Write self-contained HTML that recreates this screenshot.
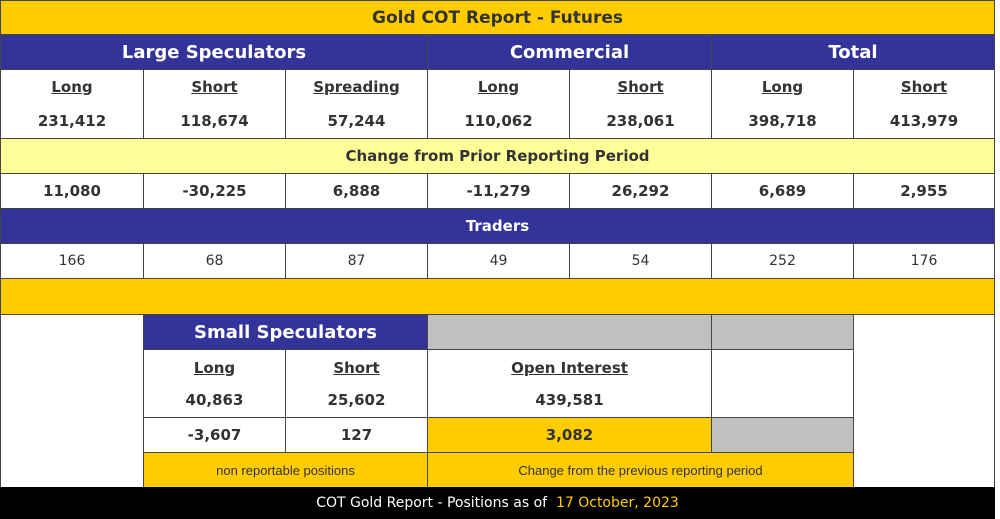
<!DOCTYPE html>
<html><head><meta charset="utf-8"><style>
body{margin:0;width:1000px;height:519px;background:#fff;position:relative;overflow:hidden;font-family:"DejaVu Sans",Verdana,sans-serif;}
.c{position:absolute;box-sizing:border-box;border:1px solid #444;display:flex;align-items:center;justify-content:center;color:#333;font-weight:bold;font-size:15px;margin:0 0 0 0;}
.y{background:#ffcc00}.b{background:#333399;color:#fff;font-size:18px}.w{background:#fff}.g{background:#c0c0c0}.ly{background:#ffff99}
.u{text-decoration:underline}
.n{font-weight:normal;font-size:14px}
.s{font-family:"Liberation Sans",Arial,sans-serif;font-weight:normal;font-size:13px}
.nb{border:none}
</style></head><body>
<div class="c y" style="left:0;top:0;width:995px;height:35px;font-size:17px">Gold COT Report - Futures</div>
<div class="c b" style="left:0;top:34px;width:428px;height:36px">Large Speculators</div>
<div class="c b" style="left:427px;top:34px;width:285px;height:36px">Commercial</div>
<div class="c b" style="left:711px;top:34px;width:284px;height:36px">Total</div>

<div class="c w" style="left:0;top:69px;width:144px;height:70px;flex-direction:column;gap:16px"><span class="u">Long</span><span>231,412</span></div>
<div class="c w" style="left:143px;top:69px;width:143px;height:70px;flex-direction:column;gap:16px"><span class="u">Short</span><span>118,674</span></div>
<div class="c w" style="left:285px;top:69px;width:143px;height:70px;flex-direction:column;gap:16px"><span class="u">Spreading</span><span>57,244</span></div>
<div class="c w" style="left:427px;top:69px;width:143px;height:70px;flex-direction:column;gap:16px"><span class="u">Long</span><span>110,062</span></div>
<div class="c w" style="left:569px;top:69px;width:143px;height:70px;flex-direction:column;gap:16px"><span class="u">Short</span><span>238,061</span></div>
<div class="c w" style="left:711px;top:69px;width:143px;height:70px;flex-direction:column;gap:16px"><span class="u">Long</span><span>398,718</span></div>
<div class="c w" style="left:853px;top:69px;width:142px;height:70px;flex-direction:column;gap:16px"><span class="u">Short</span><span>413,979</span></div>

<div class="c ly" style="left:0;top:138px;width:995px;height:36px">Change from Prior Reporting Period</div>
<div class="c w" style="left:0;top:173px;width:144px;height:36px">11,080</div>
<div class="c w" style="left:143px;top:173px;width:143px;height:36px">-30,225</div>
<div class="c w" style="left:285px;top:173px;width:143px;height:36px">6,888</div>
<div class="c w" style="left:427px;top:173px;width:143px;height:36px">-11,279</div>
<div class="c w" style="left:569px;top:173px;width:143px;height:36px">26,292</div>
<div class="c w" style="left:711px;top:173px;width:143px;height:36px">6,689</div>
<div class="c w" style="left:853px;top:173px;width:142px;height:36px">2,955</div>

<div class="c b" style="left:0;top:208px;width:995px;height:36px;font-size:15px">Traders</div>
<div class="c w n" style="left:0;top:243px;width:144px;height:36px">166</div>
<div class="c w n" style="left:143px;top:243px;width:143px;height:36px">68</div>
<div class="c w n" style="left:285px;top:243px;width:143px;height:36px">87</div>
<div class="c w n" style="left:427px;top:243px;width:143px;height:36px">49</div>
<div class="c w n" style="left:569px;top:243px;width:143px;height:36px">54</div>
<div class="c w n" style="left:711px;top:243px;width:143px;height:36px">252</div>
<div class="c w n" style="left:853px;top:243px;width:142px;height:36px">176</div>

<div class="c y" style="left:0;top:278px;width:995px;height:37px"></div>
<div class="c w" style="left:0;top:314px;width:144px;height:174px"></div>
<div class="c w" style="left:853px;top:314px;width:142px;height:174px"></div>
<div class="c b" style="left:143px;top:314px;width:285px;height:36px">Small Speculators</div>
<div class="c g" style="left:427px;top:314px;width:285px;height:36px"></div>
<div class="c g" style="left:711px;top:314px;width:143px;height:36px"></div>

<div class="c w" style="left:143px;top:349px;width:143px;height:69px;flex-direction:column;gap:14px"><span class="u">Long</span><span>40,863</span></div>
<div class="c w" style="left:285px;top:349px;width:143px;height:69px;flex-direction:column;gap:14px"><span class="u">Short</span><span>25,602</span></div>
<div class="c w" style="left:427px;top:349px;width:285px;height:69px;flex-direction:column;gap:14px"><span class="u">Open Interest</span><span>439,581</span></div>
<div class="c w" style="left:711px;top:349px;width:143px;height:69px"></div>

<div class="c w" style="left:143px;top:417px;width:143px;height:36px">-3,607</div>
<div class="c w" style="left:285px;top:417px;width:143px;height:36px">127</div>
<div class="c y" style="left:427px;top:417px;width:285px;height:36px">3,082</div>
<div class="c g" style="left:711px;top:417px;width:143px;height:36px"></div>

<div class="c y s" style="left:143px;top:452px;width:285px;height:36px">non reportable positions</div>
<div class="c y s" style="left:427px;top:452px;width:427px;height:36px">Change from the previous reporting period</div>

<div class="c nb" style="left:0;top:487px;width:995px;height:32px;background:#000;color:#fff;font-weight:normal;font-size:14px">COT Gold Report - Positions as of&nbsp;<span style="color:#ffcc00">&nbsp;17 October, 2023</span></div>
</body></html>
